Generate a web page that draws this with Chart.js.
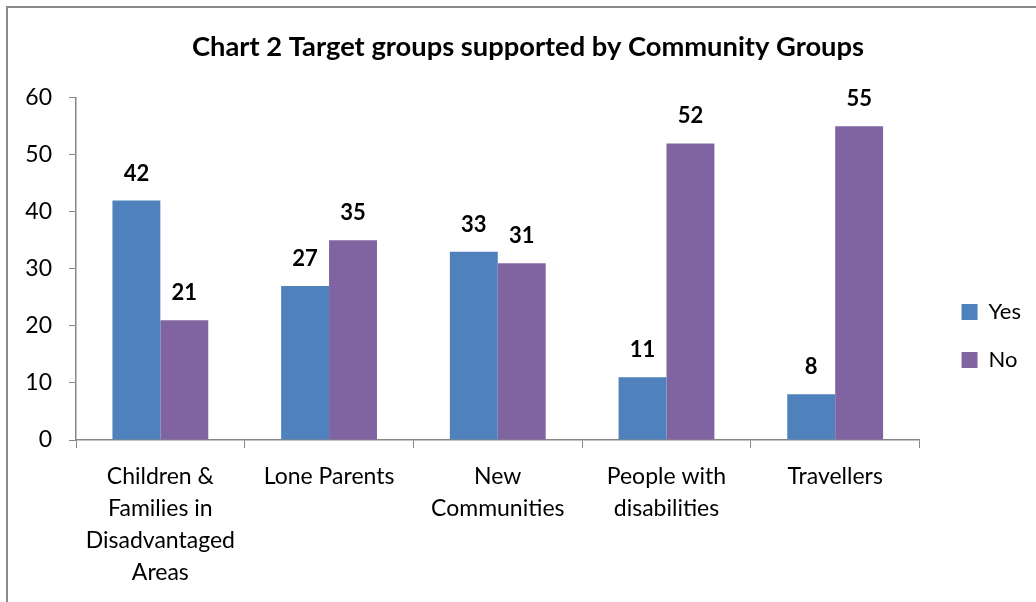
<!DOCTYPE html>
<html>
<head>
<meta charset="utf-8">
<script src="https://cdn.jsdelivr.net/npm/chart.js@4.4.1/dist/chart.umd.min.js"></script>
<style>
  html, body { margin: 0; padding: 0; background: #fff; }
  #wrap { position: relative; width: 1036px; height: 602px; overflow: hidden; }
  #frame { position: absolute; left: 6px; top: 6px; width: 1200px; height: 800px;
           border-left: 2px solid #8a8a8a; border-top: 2px solid #8a8a8a; }
  canvas { position: absolute; left: 0; top: 0; }
</style>
</head>
<body>
<div id="wrap">
  <div id="frame"></div>
  <canvas id="c" width="1036" height="602"></canvas>
</div>
<script>
const titleText = 'Chart 2 Target groups supported by Community Groups';
const categories = [
  ['Children &', 'Families in', 'Disadvantaged', 'Areas'],
  'Lone Parents',
  ['New', 'Communities'],
  ['People with', 'disabilities'],
  'Travellers'
];
const yesValues = [42, 27, 33, 11, 8];
const noValues = [21, 35, 31, 52, 55];
const yTicks = [0, 10, 20, 30, 40, 50, 60];

const FONT = 'Lato, "Open Sans", sans-serif';
const AXIS_GREY = '#868686';

// Bold value printed above each bar
const valueLabels = {
  id: 'valueLabels',
  afterDatasetsDraw(chart) {
    const ctx = chart.ctx;
    ctx.save();
    ctx.font = 'bold 22px ' + FONT;
    ctx.fillStyle = '#000';
    ctx.textAlign = 'center';
    ctx.textBaseline = 'middle';
    chart.data.datasets.forEach((ds, di) => {
      chart.getDatasetMeta(di).data.forEach((bar, i) => {
        ctx.fillText(String(ds.data[i]), bar.x, bar.y - 27);
      });
    });
    ctx.restore();
  }
};

new Chart(document.getElementById('c'), {
  type: 'bar',
  data: {
    labels: categories,
    datasets: [
      { label: 'Yes', data: yesValues, backgroundColor: '#4F81BD' },
      { label: 'No', data: noValues, backgroundColor: '#8064A2' }
    ]
  },
  options: {
    responsive: false,
    animation: false,
    devicePixelRatio: 1,
    layout: { padding: { left: 25, right: 5, top: 0, bottom: 0 } },
    datasets: { bar: { barPercentage: 1, categoryPercentage: 0.568 } },
    plugins: {
      title: {
        display: true,
        text: titleText,
        color: '#000',
        font: { family: FONT, size: 27.3, weight: 'bold', lineHeight: 1.2 },
        padding: { top: 31, bottom: 34 }
      },
      legend: {
        position: 'right',
        title: { display: true, text: '', font: { size: 10, lineHeight: 1 }, padding: { top: 60, bottom: 0 } },
        labels: {
          color: '#000',
          boxWidth: 16,
          boxHeight: 16,
          padding: 26,
          font: { family: FONT, size: 22 }
        }
      },
      tooltip: { enabled: false }
    },
    scales: {
      x: {
        grid: { drawOnChartArea: false, color: AXIS_GREY, tickLength: 8, offset: true },
        border: { color: AXIS_GREY, width: 1.5 },
        ticks: { color: '#000', padding: 13, maxRotation: 0, autoSkip: false,
                 font: { family: FONT, size: 23, lineHeight: 1.39 } },
        afterFit(s) { s.height = 162; }
      },
      y: {
        min: 0, max: 60,
        afterBuildTicks(s) { s.ticks = yTicks.map(v => ({ value: v })); },
        grid: { drawOnChartArea: false, color: AXIS_GREY, tickLength: 7 },
        border: { color: AXIS_GREY, width: 1.5 },
        ticks: { color: '#000', padding: 17, font: { family: FONT, size: 23 } },
        afterFit(s) { s.width = 51; }
      },
      gap: {
        position: 'right',
        display: true,
        grid: { display: false },
        border: { display: false },
        ticks: { display: false },
        afterFit(s) { s.width = 16; }
      }
    }
  },
  plugins: [valueLabels]
});
</script>
</body>
</html>
